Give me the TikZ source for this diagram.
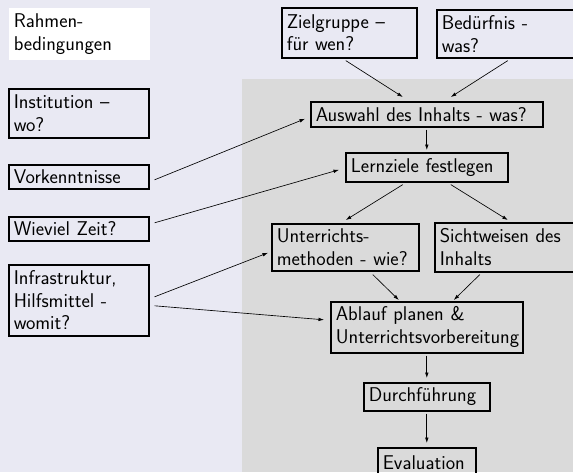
\documentclass[tikz,border=0pt]{standalone}
\usepackage{fontspec}
\usetikzlibrary{calc,arrows.meta}
\definecolor{bgcol}{RGB}{233,233,243}
\definecolor{graycol}{RGB}{218,218,218}
\begin{document}
\begin{tikzpicture}[x=1pt,y=-1pt,
  every node/.style={font=\sffamily\fontsize{19.9}{22.7}\selectfont},
  box/.style={draw=black,line width=1.6pt,inner xsep=5pt,inner ysep=0pt,align=left,anchor=north west},
  arr/.style={-{Latex[length=5.5pt,width=3.6pt]},line width=0.65pt}]
\useasboundingbox (0,0) rectangle (573,472);
\clip (0,0) rectangle (573,472);
\fill[bgcol] (0,0) rectangle (573,472);
\fill[graycol] (242,79) rectangle (573,472);
% left column
\node[box,draw=none,fill=white,minimum width=141,minimum height=52,text width=131] (rahmen) at (8,7) {Rahmen-\\bedingungen};
\node[box,minimum width=140,minimum height=49,text width=130] (inst) at (8,88) {Institution –\\wo?};
\node[box,minimum width=140,minimum height=24,text width=130] (vork) at (8,164) {Vorkenntnisse};
\node[box,minimum width=140,minimum height=24,text width=130] (wiev) at (8,216) {Wieviel Zeit?};
\node[box,minimum width=140,minimum height=71,text width=130] (infra) at (8,264) {Infrastruktur,\\Hilfsmittel -\\womit?};
% main column
\node[box,minimum width=135,minimum height=50,text width=125] (ziel) at (281,7) {Zielgruppe –\\für wen?};
\node[box,minimum width=144,minimum height=48,text width=134] (bed) at (436,9) {Bedürfnis -\\was?};
\node[box,minimum width=232,minimum height=25,text width=222] (aus) at (310,101) {Auswahl des Inhalts - was?};
\node[box,minimum width=162,minimum height=29,text width=152] (lern) at (345,152) {Lernziele festlegen};
\node[box,minimum width=147,minimum height=47,text width=137] (unt) at (271,223) {Unterrichts-\\methoden - wie?};
\node[box,minimum width=146,minimum height=49,text width=136] (sicht) at (434,222) {Sichtweisen des\\Inhalts};
\node[box,minimum width=192,minimum height=51,text width=182] (abl) at (330,301) {Ablauf planen \&\\Unterrichtsvorbereitung};
\node[box,minimum width=126,minimum height=28,text width=116] (durch) at (363,382) {Durchführung};
\node[box,minimum width=98,minimum height=29,text width=88] (eval) at (377,447) {Evaluation};
% arrows
\draw[arr] ($(ziel.south)+(-3.5,2)$) -- ($(aus.north)+(-24,-4)$);
\draw[arr] ($(bed.south)+(-1,2)$) -- ($(aus.north)+(24,-4)$);
\draw[arr] ($(aus.south)+(0,2)$) -- ($(lern.north)+(0,-2)$);
\draw[arr] ($(lern.south)+(-24,2)$) -- ($(unt.north)+(0.5,-3)$);
\draw[arr] ($(lern.south)+(24,2)$) -- ($(sicht.north)+(0,-2)$);
\draw[arr] ($(unt.south)+(27.5,3)$) -- ($(abl.north)+(-28,-1)$);
\draw[arr] ($(sicht.south)+(-28,2)$) -- ($(abl.north)+(27,-1)$);
\draw[arr] ($(abl.south)+(0,2)$) -- ($(durch.north)+(0,-4)$);
\draw[arr] ($(durch.south)+(0,2)$) -- ($(eval.north)+(0,-4)$);
\draw[arr] ($(vork.east)+(5,3)$) -- ($(aus.west)+(-5,4.5)$);
\draw[arr] ($(wiev.east)+(5,-6)$) -- ($(lern.west)+(-6,2.5)$);
\draw[arr] ($(infra.east)+(5,-3.5)$) -- ($(unt.west)+(-3,5.5)$);
\draw[arr] ($(infra.east)+(5,5.5)$) -- ($(abl.west)+(-6,-7.5)$);
\end{tikzpicture}
\end{document}
